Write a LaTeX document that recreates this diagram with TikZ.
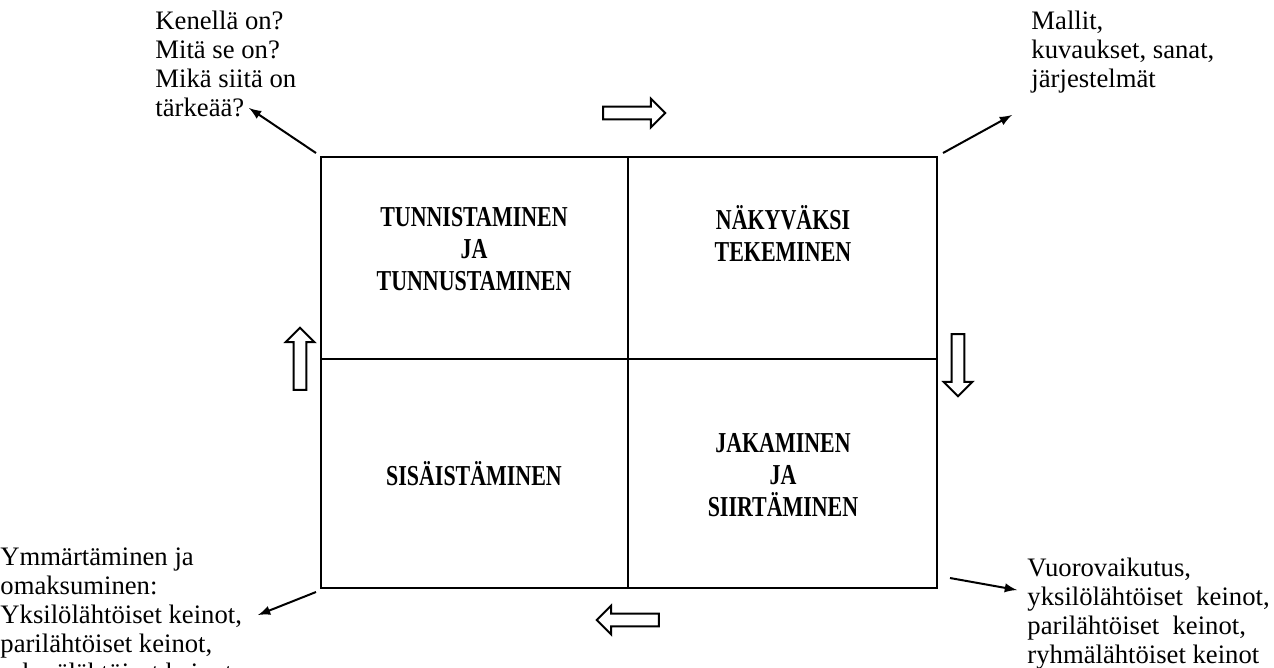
\documentclass[tikz,border=0pt]{standalone}
\usepackage{fontspec}
\setmainfont{Liberation Serif}
\newfontfamily\phasefont[FakeStretch=0.76]{Liberation Serif}
\usetikzlibrary{shapes.arrows}

\tikzset{
  note/.style={align=left, inner sep=0pt, anchor=north west, font=\fontsize{12}{13.05}\selectfont},
  phase/.style={align=center, inner sep=0pt, font=\phasefont\fontsize{13}{14.4}\selectfont\bfseries},
  pointer/.style={->, line width=0.9pt},
  divider/.style={line width=0.7pt},
  turn/.style={single arrow, draw, line width=0.9pt, inner sep=2.4pt, minimum height=28pt,
    single arrow head extend=3.6pt, single arrow head indent=0pt},
}

\begin{document}
\begin{tikzpicture}[>=latex, x=0.45pt, y=-0.45pt]
  \useasboundingbox (0,0) rectangle (1274,667);
  % Frame and the four fields
  \node[draw, divider, minimum width=277.2pt, minimum height=194pt, inner sep=0pt] (frame) at (629,372.5) {};
  \coordinate (mid) at (628,359);
  \draw[divider] (mid |- frame.north) -- (mid |- frame.south);
  \draw[divider] (mid -| frame.west) -- (mid -| frame.east);

  \node[phase] (tunnistus) at (474,249) {TUNNISTAMINEN\\JA\\TUNNUSTAMINEN};
  \node[phase] (nakyvaksi) at (783,233) {NÄKYVÄKSI\\TEKEMINEN};
  \node[phase] (sisaistys) at (474,474) {SISÄISTÄMINEN};
  \node[phase] (jakaminen) at (783,475) {JAKAMINEN\\JA\\SIIRTÄMINEN};

  % Turning arrows round the frame
  \node[turn] (turntop) at (631,113) {};
  \node[turn, rotate=-90] (turnright) at (958,362) {};
  \node[turn, rotate=180] (turnbottom) at (631,620) {};
  \node[turn, rotate=90] (turnleft) at (300,362) {};

  % Notes at the corners
  \node[note] (kysymykset) at (155,11) {Kenellä on?\\Mitä se on?\\Mikä siitä on\\tärkeää?};
  \node[note] (mallit) at (1031,11) {Mallit,\\kuvaukset, sanat,\\järjestelmät};
  \node[note] (ymmarrys) at (0,547) {Ymmärtäminen ja\\omaksuminen:\\Yksilölähtöiset keinot,\\parilähtöiset keinot,\\ryhmälähtöiset keinot};
  \node[note] (vuorovaikutus) at (1027,558) {Vuorovaikutus,\\yksilölähtöiset\ \ keinot,\\parilähtöiset\ \ keinot,\\ryhmälähtöiset keinot};

  % Pointers from the corners
  \coordinate (nwfrom) at (316,153);
  \coordinate (nwto) at (249,108);
  \coordinate (nefrom) at (943,153);
  \coordinate (neto) at (1012,115);
  \coordinate (swfrom) at (316,592);
  \coordinate (swto) at (258,615);
  \coordinate (sefrom) at (950,578);
  \coordinate (seto) at (1017,590);
  \draw[pointer] (nwfrom) -- (nwto);
  \draw[pointer] (nefrom) -- (neto);
  \draw[pointer] (swfrom) -- (swto);
  \draw[pointer] (sefrom) -- (seto);
\end{tikzpicture}
\end{document}
